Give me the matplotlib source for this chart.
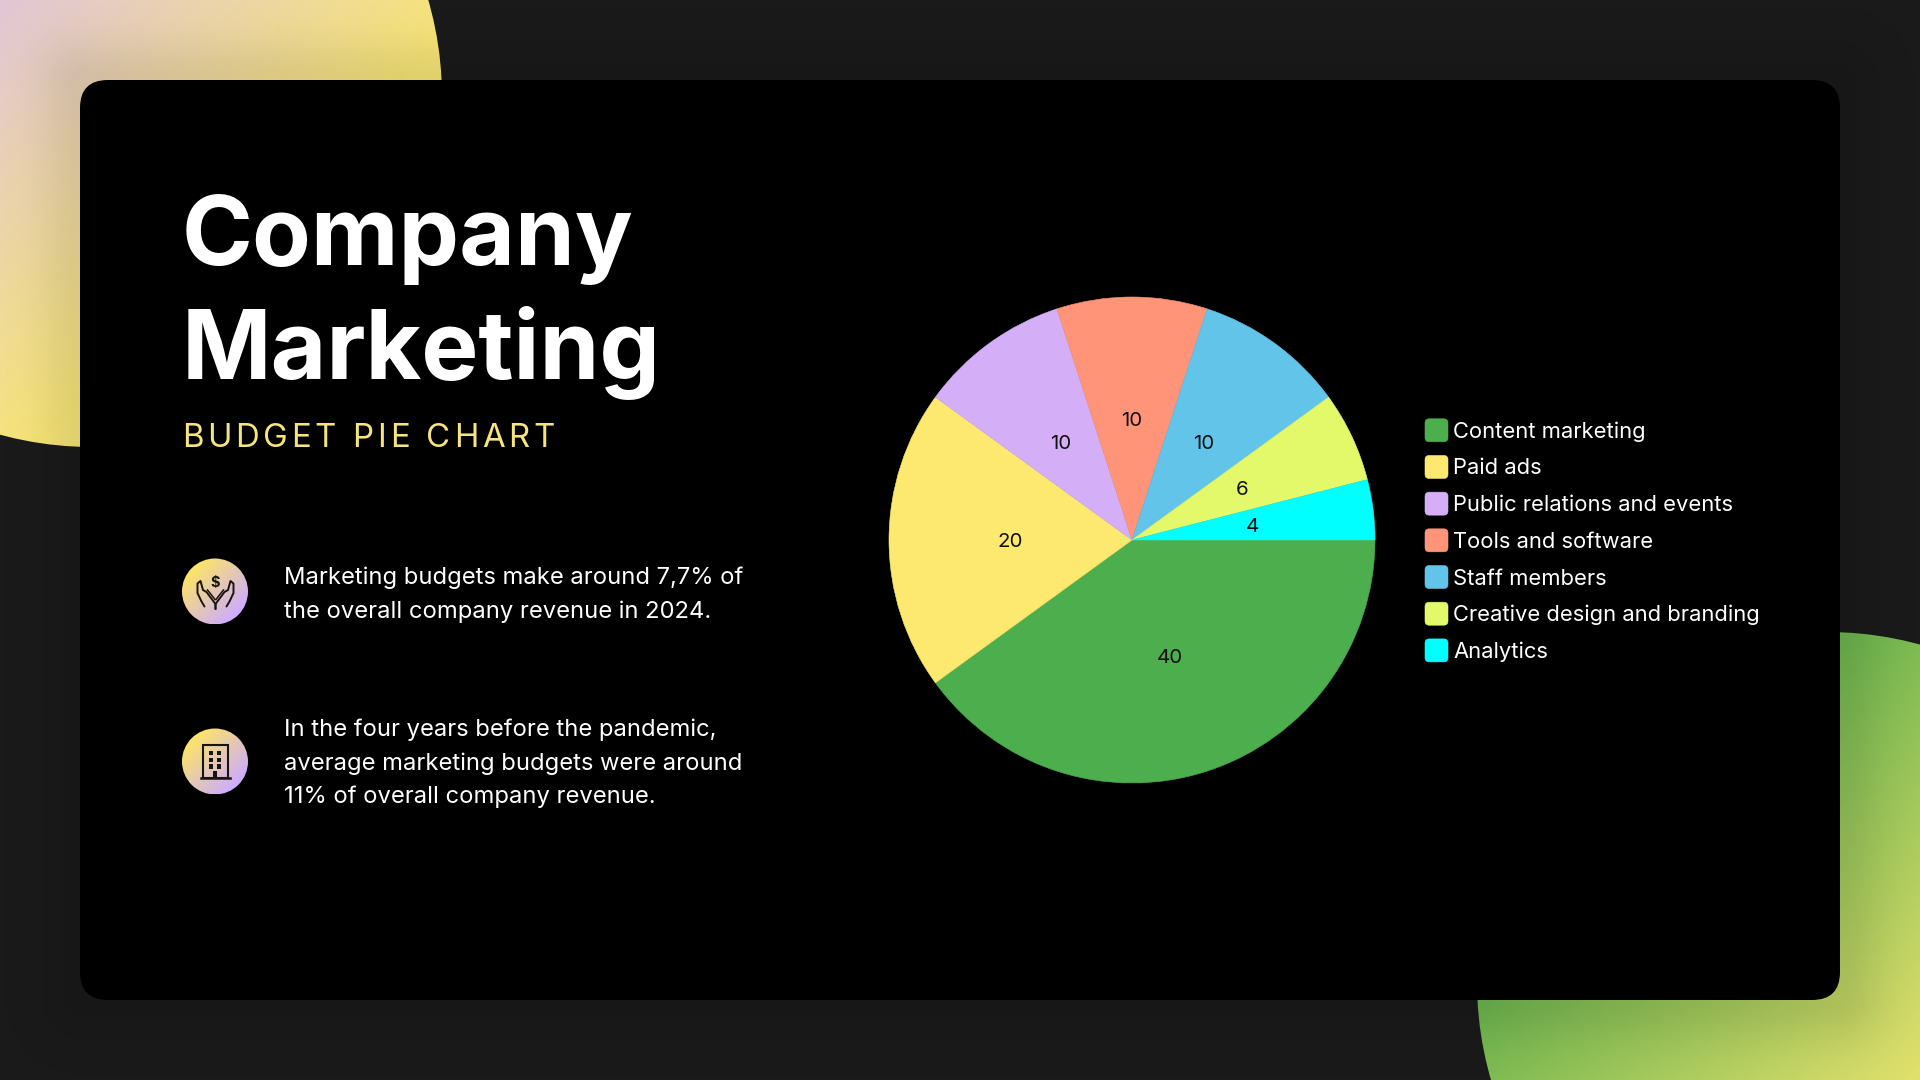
import matplotlib
matplotlib.use('Agg')
import matplotlib.pyplot as plt
import numpy as np
from matplotlib import font_manager
from matplotlib.legend_handler import HandlerPatch
from matplotlib.patches import Circle, FancyBboxPatch, Rectangle, Wedge

plt.rcParams['font.family'] = ['Inter', 'DejaVu Sans']

# chart data
categories = ['Content marketing', 'Paid ads', 'Public relations and events', 'Tools and software',
              'Staff members', 'Creative design and branding', 'Analytics']
budget = [40, 20, 10, 10, 10, 6, 4]
slice_colors = ['#4CAE4C', '#FDE96F', '#D4AFF7', '#FF9478', '#62C4E8', '#E4F96A', '#00FFFF']

title_lines = ['Company', 'Marketing']
subtitle = 'BUDGET PIE CHART'
note_one = ['Marketing budgets make around 7,7% of', 'the overall company revenue in 2024.']
note_two = ['In the four years before the pandemic,', 'average marketing budgets were around',
            '11% of overall company revenue.']

W, H = 1920, 1080
fig = plt.figure(figsize=(W/100, H/100), dpi=100, facecolor='#1A1A1A')

# background layer in pixel coordinates
bg = fig.add_axes([0, 0, 1, 1])
bg.set_xlim(0, W)
bg.set_ylim(H, 0)
bg.axis('off')


def gradient_disc(ax, cx, cy, r, c0, c1, s0, s1, z=1):
    # linear gradient along the diagonal, clipped by a circle
    c0 = np.array(matplotlib.colors.to_rgb(c0))
    c1 = np.array(matplotlib.colors.to_rgb(c1))
    x, y = np.meshgrid(np.linspace(cx-r, cx+r, 400), np.linspace(cy-r, cy+r, 400))
    t = np.clip(((x+y)-s0)/(s1-s0), 0, 1)[..., None]
    im = ax.imshow(c0*(1-t)+c1*t, extent=[cx-r, cx+r, cy+r, cy-r], zorder=z, aspect='auto')
    im.set_clip_path(Circle((cx, cy), r, transform=ax.transData))
    ax.set_xlim(0, W)
    ax.set_ylim(H, 0)


gradient_disc(bg, 92, 97, 350, '#E2C6D6', '#F7E577', 0, 480)
gradient_disc(bg, 1827, 982, 350, '#6CB44E', '#E2E06C', 2480, 3000)

# soft shadow around the card
x, y = np.meshgrid(np.arange(W), np.arange(H))
dx = np.maximum(np.maximum(80-x, x-1840), 0)
dy = np.maximum(np.maximum(80-y, y-1000), 0)
dist = np.hypot(dx, dy)
shadow = np.zeros((H, W, 4))
shadow[..., 3] = 0.09*np.exp(-(dist/42)**2)
bg.imshow(shadow, extent=[0, W, H, 0], zorder=2, aspect='auto')
bg.set_xlim(0, W)
bg.set_ylim(H, 0)

bg.add_patch(FancyBboxPatch((80+28, 80+28), 1760-56, 920-56, boxstyle='round,pad=28,rounding_size=28',
                            fc='black', ec='none', zorder=3))

# heading
for line, base in zip(title_lines, [265, 379]):
    bg.text(182, base, line, color='white', fontsize=69.2, fontweight='bold', va='baseline', zorder=5)


def spaced_text(ax, x, y, s, px, gap, color):
    # matplotlib has no letter spacing, so place the letters one at a time
    font = font_manager.get_font(font_manager.findfont('Inter'))
    font.set_size(px*0.72, 100)
    for ch in s:
        ax.text(x, y, ch, color=color, fontsize=px*0.72, va='baseline', zorder=5)
        glyph = font.load_char(ord(ch), flags=matplotlib.ft2font.LoadFlags.NO_HINTING)
        x += glyph.linearHoriAdvance/65536 + gap


spaced_text(bg, 182, 447, subtitle, 33, 3.65, '#F6E47C')

# notes
for lines, tops in [(note_one, [577.5, 611.5]), (note_two, [730, 764, 797])]:
    for line, yy in zip(lines, tops):
        bg.text(284, yy, line, color='white', fontsize=17.1, va='center', zorder=5)

# icon discs
gradient_disc(bg, 215, 591.5, 33, '#FBE36C', '#CFAEFA', 215+591.5-42, 215+591.5+42, z=4)
gradient_disc(bg, 215, 761.5, 33, '#FBE36C', '#CFAEFA', 215+761.5-42, 215+761.5+42, z=4)
ink = '#1A1410'

# hands icon
hand_x = np.array([-11, -14, -18, -18, -15, -12.5, -9, -3, 0, 0])
hand_y = np.array([606.5, 601.5, 593, 583.5, 581, 590, 592, 600, 604, 609])
for sign in [-1, 1]:
    bg.plot(215.5+sign*hand_x, hand_y, color=ink, lw=1.4, zorder=5, solid_capstyle='round')
    bg.plot(215.5+sign*np.array([-8, -4, -0.5]), np.array([590, 595, 599.5]), color=ink, lw=1.1, zorder=5)
bg.text(215.5, 583, '$', color=ink, fontsize=10.5, ha='center', va='center', fontweight='bold', zorder=5)

# building icon
bg.add_patch(Rectangle((202.5, 745), 25, 33, fc='none', ec=ink, lw=1.5, zorder=5))
bg.plot([200.5, 230], [778, 778], color=ink, lw=1.8, zorder=5)
for wx in [209, 217.3]:
    for wy in [750.7, 757.7, 764.3]:
        bg.add_patch(Rectangle((wx, wy), 3.8, 4.4, fc=ink, ec='none', zorder=5))
bg.add_patch(Rectangle((212.7, 771), 4.6, 7, fc=ink, ec='none', zorder=5))

# pie, R = 243 px around (1132, 540)
R = 243
ax = fig.add_axes([(1132-R)/W, 1-(540+R)/H, 2*R/W, 2*R/H])
wedges, _, autotexts = ax.pie(budget, colors=slice_colors, startangle=0, counterclock=False, radius=1,
                              autopct=lambda p: f'{p:.0f}', pctdistance=0.5,
                              textprops={'color': '#111111', 'fontsize': 14.8})
# hide the seams between slices
for w in wedges:
    w.set_edgecolor(w.get_facecolor())
    w.set_linewidth(0.4)
for t in autotexts:
    px, py = t.get_position()
    t.set_position((px, py-0.009))
ax.set_xlim(-1, 1)
ax.set_ylim(-1, 1)
ax.patch.set_alpha(0)


def rounded_swatch(legend, orig_handle, xdescent, ydescent, width, height, fontsize):
    # square swatch centred on the row, the handler's own height comes out too short
    y0 = -ydescent + height/2 - width/2
    return FancyBboxPatch((-xdescent+3, y0+3), width-6, width-6,
                          boxstyle='round,pad=3,rounding_size=3')


fs = 15.8
leg = fig.legend(wedges, categories, loc='center left', bbox_to_anchor=(1425/W, 1-541/H),
                 bbox_transform=fig.transFigure, frameon=False, fontsize=fs, labelcolor='white',
                 handlelength=23*0.72/fs, handleheight=23*0.72/fs, handletextpad=5*0.72/fs,
                 labelspacing=0.685, borderpad=0, borderaxespad=0,
                 handler_map={Wedge: HandlerPatch(patch_func=rounded_swatch)})

fig.savefig('out.png', dpi=100, facecolor=fig.get_facecolor())
